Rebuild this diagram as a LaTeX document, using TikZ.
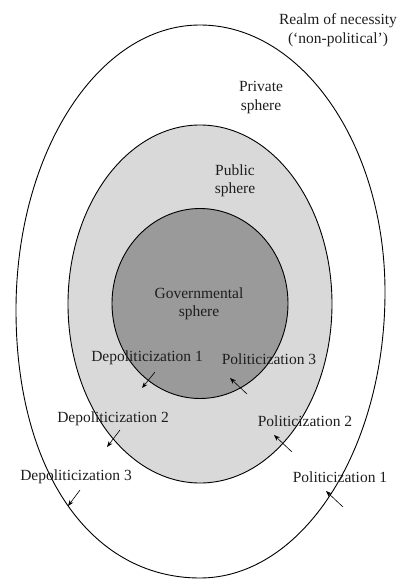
\documentclass[tikz,border=0pt]{standalone}
\usepackage{fontspec}
\setmainfont{Liberation Serif}
\usetikzlibrary{arrows.meta}
\definecolor{pubgray}{RGB}{217,217,217}
\definecolor{govgray}{RGB}{154,154,154}
\definecolor{txt}{RGB}{30,30,30}
\tikzset{
  lbl/.style={font=\fontsize{15.5}{18.5}\selectfont, text=txt, align=center, inner sep=0pt},
  movearrow/.style={line width=0.6pt, -{Stealth[length=6pt,width=4.5pt]}},
  ring/.style={line width=0.9pt, draw=black}
}
\begin{document}
\begin{tikzpicture}[x=1pt,y=-1pt]
\useasboundingbox (0,0) rectangle (405,580);
% outer realm
\draw[ring] (200,25) .. controls (302,25) and (385,145) .. (385,292)
  .. controls (385,450) and (302,578) .. (200,578)
  .. controls (90,578) and (16,470) .. (16,310)
  .. controls (16,153) and (98,25) .. (200,25) -- cycle;
% public sphere
\draw[ring, fill=pubgray] (200,304) ellipse [x radius=132pt, y radius=179pt];
% governmental sphere
\draw[ring, fill=govgray] (200,303.5) ellipse [x radius=88pt, y radius=95pt];
% labels
\node[lbl] (realm) at (338,30) {Realm of necessity\\(‘non-political’)};
\node[lbl] (private) at (261,97.5) {Private\\sphere};
\node[lbl] (public) at (235,181) {Public\\sphere};
\node[lbl] (gov) at (199,304) {Governmental\\sphere};
\node[lbl] (dep1) at (147,358) {Depoliticization 1};
\node[lbl] (pol3) at (269,359) {Politicization 3};
\node[lbl] (dep2) at (113,419) {Depoliticization 2};
\node[lbl] (pol2) at (305,421) {Politicization 2};
\node[lbl] (dep3) at (76,477) {Depoliticization 3};
\node[lbl] (pol1) at (340,477) {Politicization 1};
% arrows
\coordinate (d1a) at (155,372); \coordinate (d1b) at (142,388);
\coordinate (p3a) at (247,394); \coordinate (p3b) at (230,378);
\coordinate (d2a) at (120,430); \coordinate (d2b) at (107,447);
\coordinate (p2a) at (292,452); \coordinate (p2b) at (274,435);
\coordinate (d3a) at (80,490);  \coordinate (d3b) at (68,506);
\coordinate (p1a) at (343,507); \coordinate (p1b) at (326,491);
\draw[movearrow] (d1a) -- (d1b);
\draw[movearrow] (p3a) -- (p3b);
\draw[movearrow] (d2a) -- (d2b);
\draw[movearrow] (p2a) -- (p2b);
\draw[movearrow] (d3a) -- (d3b);
\draw[movearrow] (p1a) -- (p1b);
\end{tikzpicture}
\end{document}
